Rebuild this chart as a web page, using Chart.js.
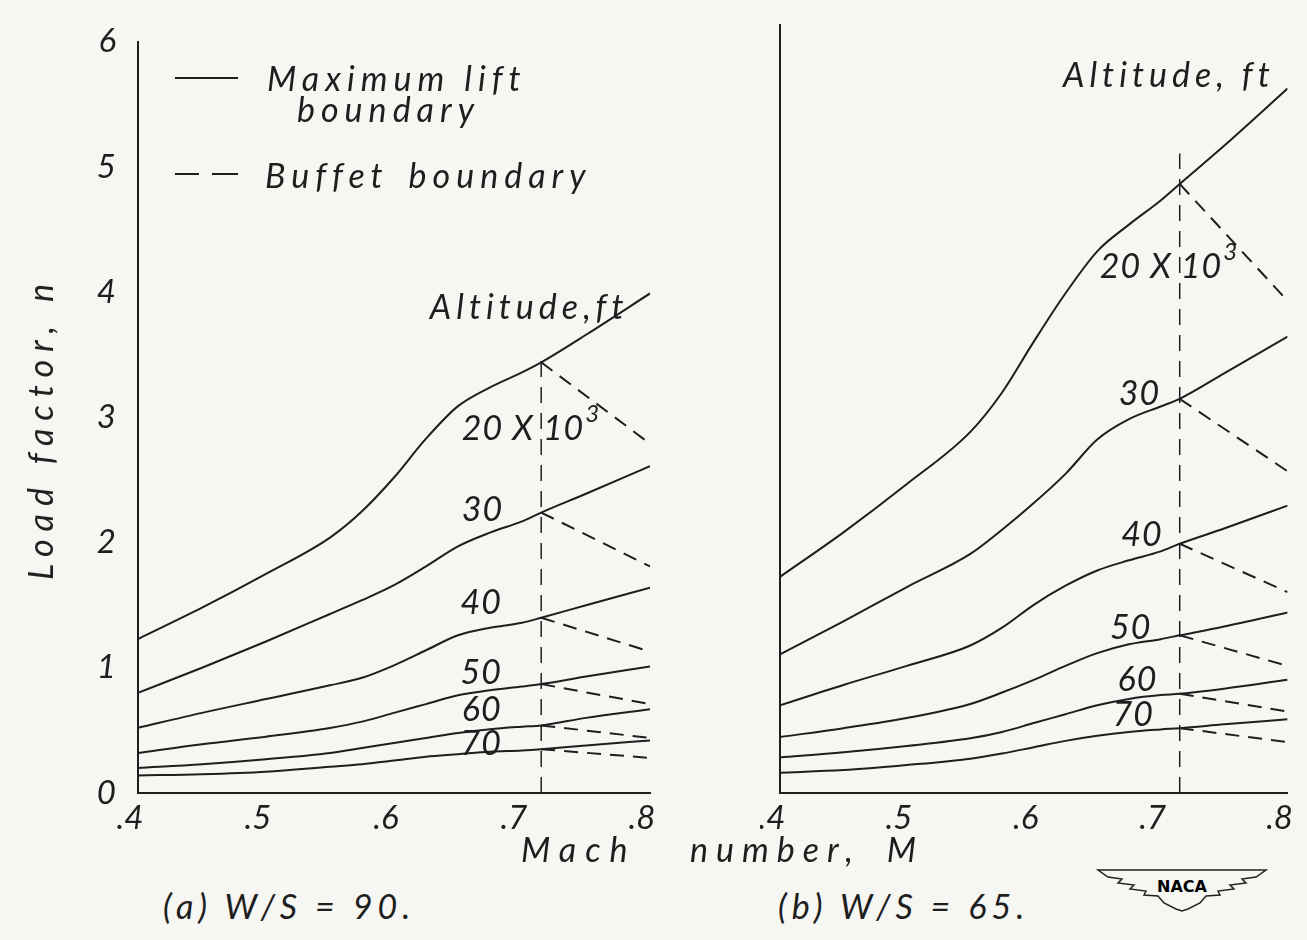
<!DOCTYPE html>
<html>
<head>
<meta charset="utf-8">
<title>Load factor vs Mach number</title>
<script src="https://cdn.jsdelivr.net/npm/chart.js@4.4.0/dist/chart.umd.min.js"></script>
<style>
  body {
    margin: 0;
    width: 1307px;
    height: 940px;
    position: relative;
    overflow: hidden;
    background: #f6f6f3;
    color: #1e1e1e;
    font-family: Lato, "DejaVu Sans", sans-serif;
    font-style: italic;
    font-weight: 400;
  }
  canvas { position: absolute; top: 0; }
  #chartA { left: 0; }
  #chartB { left: 760px; }
  .txt { position: absolute; white-space: nowrap; line-height: 1; font-size: 34px; letter-spacing: 6px; }
  .rule { position: absolute; height: 0; border-top: 2px solid #1e1e1e; }
</style>
</head>
<body>
<canvas id="chartA" width="680" height="840"></canvas>
<canvas id="chartB" width="547" height="840"></canvas>

<!-- legend -->
<div class="rule" style="left:175px; top:77px; width:63px;"></div>
<div class="txt" style="left:267px; top:61px;">Maximum lift</div>
<div class="txt" style="left:297px; top:92px;">boundary</div>
<div class="rule" style="left:175px; top:173px; width:24px;"></div>
<div class="rule" style="left:212px; top:173px; width:26px;"></div>
<div class="txt" style="left:265px; top:158px; word-spacing:6px;">Buffet boundary</div>

<!-- axis titles and captions -->
<div class="txt" style="left:40px; top:428px; letter-spacing:8px; transform:translate(-50%,-50%) rotate(-90deg);">Load factor, n</div>
<div class="txt" style="left:521px; top:832px; letter-spacing:9px;">Mach</div>
<div class="txt" style="left:690px; top:832px; letter-spacing:8px; word-spacing:10px;">number, M</div>
<div class="txt" style="left:163px; top:889px; letter-spacing:5px;">(a) W/S = 90.</div>
<div class="txt" style="left:778px; top:889px; letter-spacing:5px;">(b) W/S = 65.</div>

<svg style="position:absolute; left:1096px; top:865px;" width="172" height="48" viewBox="0 0 172 48">
  <path d="M2 5 L170 5 L160 12 L146 14 L150 18 L134 20 L138 24 L122 26 L124 30 L110 31 L104 38 L92 44 L86 46 L80 44 L68 38 L62 31 L48 30 L50 26 L34 24 L38 20 L22 18 L26 14 L12 12 Z" fill="none" stroke="#222" stroke-width="1.5"/>
  <text x="86" y="27" text-anchor="middle" font-family="DejaVu Sans" font-style="normal" font-weight="bold" font-size="16">NACA</text>
</svg>

<script>
// Mach number grid shared by all curves
const mach = [0.40, 0.45, 0.50, 0.55, 0.575, 0.60, 0.625, 0.65, 0.675, 0.70, 0.715, 0.75, 0.80];
const buffetMach = 0.715;
const altitudes = ["20 X 10", "30", "40", "50", "60", "70"];

// (a) W/S = 90, maximum lift boundary, one array per altitude
const liftA20 = [1.23, 1.48, 1.75, 2.04, 2.25, 2.52, 2.83, 3.09, 3.24, 3.36, 3.44, 3.66, 3.99];
const liftA30 = [0.80, 1.00, 1.21, 1.43, 1.54, 1.66, 1.81, 1.97, 2.08, 2.17, 2.24, 2.39, 2.61];
const liftA40 = [0.52, 0.64, 0.75, 0.86, 0.92, 1.02, 1.14, 1.26, 1.32, 1.36, 1.40, 1.50, 1.64];
const liftA50 = [0.32, 0.39, 0.45, 0.52, 0.57, 0.64, 0.71, 0.78, 0.82, 0.85, 0.87, 0.93, 1.01];
const liftA60 = [0.20, 0.23, 0.27, 0.32, 0.36, 0.40, 0.44, 0.48, 0.51, 0.53, 0.54, 0.60, 0.67];
const liftA70 = [0.14, 0.15, 0.17, 0.21, 0.23, 0.26, 0.29, 0.31, 0.33, 0.34, 0.35, 0.38, 0.42];
// buffet boundary value at M = .8 (it starts on the lift curve at buffetMach)
const buffetEndA = [2.79, 1.81, 1.13, 0.71, 0.44, 0.28];

// (b) W/S = 65
const liftB20 = [1.70, 2.05, 2.43, 2.84, 3.15, 3.55, 3.93, 4.26, 4.47, 4.66, 4.79, 5.09, 5.54];
const liftB30 = [1.09, 1.35, 1.62, 1.88, 2.07, 2.28, 2.51, 2.78, 2.94, 3.04, 3.10, 3.30, 3.59];
const liftB40 = [0.69, 0.85, 1.00, 1.16, 1.30, 1.48, 1.63, 1.75, 1.83, 1.90, 1.96, 2.08, 2.26];
const liftB50 = [0.44, 0.51, 0.59, 0.70, 0.79, 0.89, 1.00, 1.10, 1.17, 1.21, 1.24, 1.31, 1.42];
const liftB60 = [0.28, 0.32, 0.37, 0.43, 0.48, 0.55, 0.62, 0.69, 0.74, 0.77, 0.78, 0.82, 0.89];
const liftB70 = [0.16, 0.18, 0.22, 0.27, 0.31, 0.36, 0.41, 0.45, 0.48, 0.50, 0.51, 0.54, 0.58];
const buffetEndB = [3.87, 2.53, 1.58, 1.00, 0.64, 0.40];

// top of the vertical buffet line
const wallTopA = 3.52;
const wallTopB = 5.03;

const ink = "#1e1e1e";
const fontStack = "Lato, 'DejaVu Sans', sans-serif";
const tickFont = { family: fontStack, style: "italic", weight: 400, size: 33 };

function buildSets(curves, buffetEnd, wallTop) {
  const sets = [];
  const bi = mach.indexOf(buffetMach);
  curves.forEach(function (c) {
    sets.push({
      data: mach.map(function (m, i) { return { x: m, y: c[i] }; }),
      borderColor: ink, borderWidth: 2, pointRadius: 0,
      cubicInterpolationMode: "monotone", fill: false
    });
  });
  curves.forEach(function (c, k) {
    sets.push({
      data: [{ x: buffetMach, y: c[bi] }, { x: 0.8, y: buffetEnd[k] }],
      borderColor: ink, borderWidth: 2, borderDash: [14, 9], pointRadius: 0, fill: false
    });
  });
  sets.push({
    data: [{ x: buffetMach, y: 0 }, { x: buffetMach, y: wallTop }],
    borderColor: ink, borderWidth: 1.5, borderDash: [16, 10], pointRadius: 0, fill: false
  });
  return sets;
}

// text placed on the plot in data coordinates
const curveLabels = {
  id: "curveLabels",
  afterDatasetsDraw(chart, args, opts) {
    const ctx = chart.ctx;
    const x = chart.scales.x, y = chart.scales.y;
    ctx.save();
    ctx.fillStyle = ink;
    ctx.textBaseline = "middle";
    opts.items.forEach(function (it) {
      const size = it.size || 34;
      const px = x.getPixelForValue(it.m), py = y.getPixelForValue(it.n);
      ctx.font = "italic 400 " + size + "px " + fontStack;
      ctx.letterSpacing = (it.spacing || 1) + "px";
      ctx.fillText(it.text, px, py);
      if (it.sup) {
        const w = ctx.measureText(it.text).width;
        ctx.font = "italic 400 " + Math.round(size * 0.7) + "px " + fontStack;
        ctx.fillText(it.sup, px + w + 1, py - size * 0.42);
      }
    });
    ctx.restore();
  }
};

function makeChart(id, sets, opts) {
  return new Chart(document.getElementById(id), {
    type: "line",
    data: { datasets: sets },
    plugins: [curveLabels],
    options: {
      responsive: false,
      animation: false,
      layout: { padding: { top: opts.top, right: opts.right, left: 0, bottom: 0 } },
      plugins: {
        legend: { display: false },
        tooltip: { enabled: false },
        curveLabels: { items: opts.labels }
      },
      scales: {
        x: {
          type: "linear", min: 0.4, max: 0.8,
          grid: { display: true, color: "rgba(0,0,0,0)", drawTicks: false },
          border: { display: true, color: ink, width: 2 },
          ticks: {
            stepSize: 0.1, padding: 6, labelOffset: -8, color: ink, font: tickFont,
            maxRotation: 0, autoSkip: false,
            callback: function (v) { return "." + Math.round(v * 10); }
          },
          afterFit: function (s) { s.height = 47; }
        },
        y: {
          min: 0, max: opts.ymax,
          grid: { display: true, color: "rgba(0,0,0,0)", drawTicks: false },
          border: { display: true, color: ink, width: 2 },
          ticks: {
            display: opts.yLabels, stepSize: 1, padding: 22, color: ink, font: tickFont,
            callback: function (v) { return Number.isInteger(v) ? String(v) : ""; }
          },
          afterFit: function (s) { s.width = opts.yWidth; }
        }
      }
    }
  });
}

makeChart("chartA",
  buildSets([liftA20, liftA30, liftA40, liftA50, liftA60, liftA70], buffetEndA, wallTopA),
  {
    top: 30, right: 30, ymax: 6, yLabels: true, yWidth: 138,
    labels: [
      { text: "Altitude,ft", m: 0.628, n: 3.87, spacing: 5 },
      { text: altitudes[0], sup: "3", m: 0.653, n: 2.91 },
      { text: altitudes[1], m: 0.653, n: 2.26 },
      { text: altitudes[2], m: 0.652, n: 1.52 },
      { text: altitudes[3], m: 0.652, n: 0.96 },
      { text: altitudes[4], m: 0.653, n: 0.66 },
      { text: altitudes[5], m: 0.652, n: 0.39 }
    ]
  });

makeChart("chartB",
  buildSets([liftB20, liftB30, liftB40, liftB50, liftB60, liftB70], buffetEndB, wallTopB),
  {
    top: 25, right: 15, ymax: 6.04, yLabels: false, yWidth: 20,
    labels: [
      { text: "Altitude, ft", m: 0.623, n: 5.64, spacing: 5 },
      { text: altitudes[0], sup: "3", m: 0.652, n: 4.14 },
      { text: altitudes[1], m: 0.667, n: 3.14 },
      { text: altitudes[2], m: 0.669, n: 2.03 },
      { text: altitudes[3], m: 0.660, n: 1.30 },
      { text: altitudes[4], m: 0.666, n: 0.89 },
      { text: altitudes[5], m: 0.662, n: 0.61 }
    ]
  });
</script>
</body>
</html>
